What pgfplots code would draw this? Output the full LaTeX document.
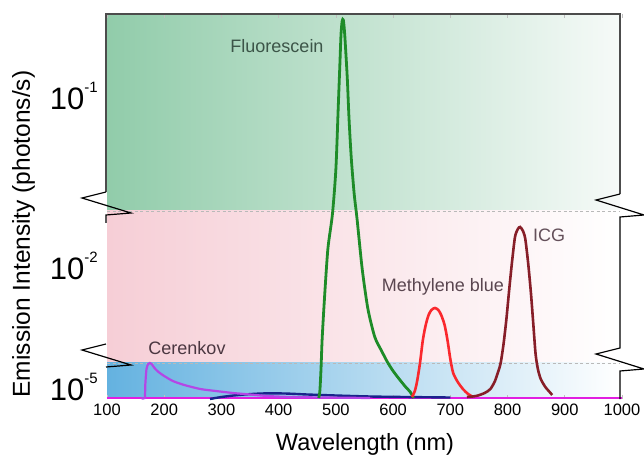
\documentclass[border=0pt]{standalone}
\usepackage{fontspec}
\setmainfont{Liberation Sans}
\usepackage{pgfplots}
\pgfplotsset{compat=1.18}
\definecolor{greenL}{RGB}{145,204,170}
\definecolor{greenR}{RGB}{246,250,248}
\definecolor{pinkL}{RGB}{246,206,214}
\definecolor{pinkM}{RGB}{249,222,228}
\definecolor{blueL}{RGB}{100,178,224}
\definecolor{blueM}{RGB}{205,230,245}
\definecolor{cFluo}{RGB}{30,140,40}
\definecolor{cMB}{RGB}{250,40,45}
\definecolor{cICG}{RGB}{135,30,40}
\definecolor{cCer}{RGB}{180,70,230}
\definecolor{cBase}{RGB}{225,30,225}
\definecolor{cNavy}{RGB}{25,35,140}
\definecolor{tFluo}{RGB}{60,85,72}
\definecolor{tCer}{RGB}{75,55,65}
\definecolor{tMB}{RGB}{90,70,80}
\definecolor{tICG}{RGB}{100,80,90}
\newcommand{\tenp}[1]{10\raisebox{17bp}{\fontsize{15bp}{15bp}\selectfont #1}}
\begin{document}
\begin{tikzpicture}
% background bands
\shade[left color=greenL,right color=greenR] (0bp,188bp) rectangle (513bp,385bp);
\shade[left color=pinkL,middle color=pinkM,right color=white] (0bp,36bp) rectangle (513bp,188bp);
\shade[left color=blueL,middle color=blueM,right color=white] (0bp,0bp) rectangle (513bp,36bp);
\draw[gray!55,line width=0.6bp,dash pattern=on 3bp off 2.5bp] (0bp,188bp) -- (513bp,188bp);
\draw[gray!55,line width=0.6bp,dash pattern=on 3bp off 2.5bp] (0bp,36bp) -- (513bp,36bp);
\begin{axis}[
  at={(0bp,0bp)}, anchor=south west, scale only axis,
  width=515bp, height=385bp,
  xmin=100, xmax=1000, ymin=0, ymax=385,
  clip=false,
  axis line style={draw=none},
  xtick={100,200,300,400,500,600,700,800,900,1000},
  xticklabels={100,200,300,400,500,600,700,800,900,1000},
  xticklabel style={font=\fontsize{16.5bp}{18bp}\selectfont, inner sep=0pt, anchor=north, yshift=-5bp},
  major tick length=4bp, tick align=inside,
  xtick style={draw=gray!50, line width=0.6bp},
  ytick={0,120.5,290.5},
  yticklabels={\tenp{-5},\tenp{-2},\tenp{-1}},
  yticklabel style={font=\fontsize{31bp}{31bp}\selectfont, anchor=base east, inner sep=0pt, xshift=-9bp, yshift=-1bp},
  ytick style={draw=none},
  /pgf/number format/assume math mode=true,
]
\addplot[cBase, line width=2.4bp] coordinates {(100,1) (1000,1)};
\addplot[cNavy, line width=2.4bp, smooth, tension=0.5] coordinates {
(280,0) (300,2) (330,4) (370,5.5) (410,5.5) (450,4.5) (500,3.5) (560,2.5) (620,2) (700,1.5)};
\addplot[cCer, line width=2.2bp, smooth, tension=0.4] coordinates {
(160,1) (166,1) (167,15) (169,30) (172,35) (175,36) (178,35) (183,31) (190,27) (200,23) (215,18) (235,14) (263,10) (290,8) (320,6) (350,4.5) (380,3) (420,2) (480,1.5) (560,1)};
\addplot[cFluo, line width=2.8bp, smooth, tension=0.45] coordinates {
(470,1) (472,8) (474,30) (476,60) (480,100) (486,150) (494,185) (500,230) (504,290) (507,335) (509,365) (511,378) (513,379) (515,368) (517,350) (520,320) (523,280) (527,240) (532,205) (537,180) (546,130) (556,90) (568,62) (580,48) (590,37) (600,28) (612,19) (622,12) (630,7) (636,1)};
\addplot[cMB, line width=2.6bp, smooth, tension=0.45] coordinates {
(633,2) (638,8) (642,18) (647,36) (652,59) (657,74) (662,84) (667,89) (673,91) (679,89) (684,84) (690,74) (695,59) (700,40) (705,26) (713,17) (722,10) (731,5) (740,2)};
\addplot[cICG, line width=2.6bp, smooth, tension=0.45] coordinates {
(729,2) (745,3) (760,6) (770,10) (778,18) (784,28) (788,36) (793,55) (798,80) (803,110) (808,138) (813,162) (818,170) (822,172) (827,168) (831,160) (836,136) (841,105) (845,75) (849,45) (853,30) (858,20) (866,12) (872,8) (878,4)};
\end{axis}
% frame and breaks
\draw[black!70,line width=1.2bp] (-1bp,207bp) -- (-1bp,385bp) -- (513bp,385bp) -- (513bp,205bp);
\draw[black,line width=1.2bp,line join=miter] (-1bp,207bp) -- (-25bp,201bp) -- (24bp,186bp) -- (-1bp,184bp) -- (-1bp,176bp);
\draw[black,line width=1.2bp,line join=miter] (-1bp,55bp) -- (-25bp,49bp) -- (24bp,34bp) -- (-1bp,32bp);
\draw[black,line width=1.2bp,line join=miter] (513bp,205bp) -- (489bp,199bp) -- (537bp,184bp) -- (513bp,182bp) -- (513bp,51bp) -- (489bp,45bp) -- (537bp,30bp) -- (513bp,28bp) -- (513bp,0bp);
% annotations
\node[font=\fontsize{18bp}{20bp}\selectfont, text=tFluo] at (170bp,353bp) {Fluorescein};
\node[font=\fontsize{18bp}{20bp}\selectfont, text=tCer] at (80bp,51bp) {Cerenkov};
\node[font=\fontsize{18bp}{20bp}\selectfont, text=tMB] at (336bp,112bp) {Methylene blue};
\node[font=\fontsize{18bp}{20bp}\selectfont, text=tICG] at (442bp,164bp) {ICG};
% axis labels
\node[font=\fontsize{23.5bp}{26bp}\selectfont, anchor=base] at (258bp,-51bp) {Wavelength (nm)};
\node[font=\fontsize{24.5bp}{26bp}\selectfont, rotate=90, anchor=base] at (-77bp,165bp) {Emission Intensity (photons/s)};
\pgfresetboundingbox
\path[use as bounding box] (-107bp,-57bp) rectangle (537bp,399bp);
\end{tikzpicture}
\end{document}
